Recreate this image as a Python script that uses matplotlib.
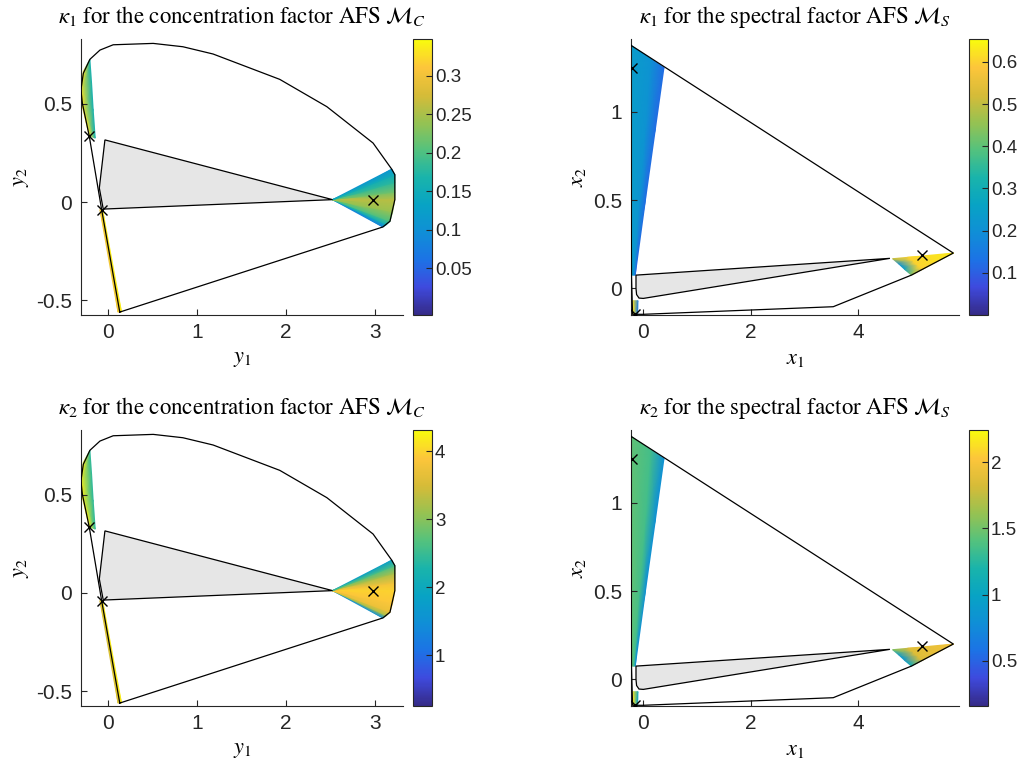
import numpy as np
import matplotlib
matplotlib.use("Agg")
import matplotlib.pyplot as plt
from matplotlib.colors import LinearSegmentedColormap, Normalize
from matplotlib.ticker import FormatStrFormatter

plt.rcParams["font.family"] = ["Liberation Sans", "DejaVu Sans"]
plt.rcParams["mathtext.fontset"] = "stix"
plt.rcParams["axes.unicode_minus"] = False

# parula-like colormap anchors
parula_pos = [0.0, 0.1, 0.2, 0.3, 0.4, 0.5, 0.6, 0.7, 0.8, 0.9, 1.0]
parula_rgb = [(0.208, 0.166, 0.529), (0.245, 0.290, 0.870), (0.110, 0.450, 0.900),
              (0.060, 0.560, 0.840), (0.030, 0.640, 0.770), (0.100, 0.705, 0.670),
              (0.330, 0.760, 0.490), (0.590, 0.760, 0.320), (0.840, 0.735, 0.220),
              (0.990, 0.775, 0.230), (0.976, 0.983, 0.054)]
parula = LinearSegmentedColormap.from_list("parula", list(zip(parula_pos, parula_rgb)))

# ---- concentration factor AFS (y1, y2) ----
conc_outline_x = [0.13, 3.09, 3.17, 3.225, 3.225, 3.19, 2.98, 2.46, 1.93, 1.18, 0.84,
                  0.506, 0.056, -0.093, -0.206, -0.28, -0.307, -0.29, -0.214, -0.074, 0.13]
conc_outline_y = [-0.56, -0.127, -0.098, 0.012, 0.139, 0.167, 0.30, 0.485, 0.624, 0.753, 0.79,
                  0.807, 0.80, 0.773, 0.726, 0.655, 0.57, 0.50, 0.337, -0.039, -0.56]
conc_gray_x = [-0.037, 2.524, -0.056, -0.10, -0.037]
conc_gray_y = [0.316, 0.012, -0.036, 0.071, 0.316]
conc_cross_x = [-0.214, -0.074, 2.98]
conc_cross_y = [0.337, -0.039, 0.012]

conc_apex = (2.524, 0.012)
conc_fan_x = [3.09, 3.13, 3.17, 3.20, 3.225, 3.225, 3.225, 3.225, 3.19]
conc_fan_y = [-0.127, -0.115, -0.098, -0.05, 0.012, 0.05, 0.10, 0.139, 0.167]
k1_conc_fan = [0.08, 0.15, 0.20, 0.24, 0.26, 0.22, 0.18, 0.15, 0.11]
k2_conc_fan = [1.5, 3.2, 3.7, 3.9, 4.0, 3.8, 3.2, 2.6, 1.8]

conc_up_left_x = [-0.28, -0.307, -0.29, -0.214]
conc_up_left_y = [0.664, 0.57, 0.485, 0.337]
conc_up_right_x = [-0.206, -0.187, -0.169, -0.146]
conc_up_right_y = [0.726, 0.604, 0.469, 0.325]
k1_conc_up = [0.33, 0.16]
k2_conc_up = [4.2, 2.4]

conc_low_left_x = [-0.093, 0.11]
conc_low_left_y = [-0.039, -0.56]
conc_low_right_x = [-0.063, 0.15]
conc_low_right_y = [-0.039, -0.56]
k1_conc_low = [0.30, 0.34]
k2_conc_low = [3.5, 4.2]

# ---- spectral factor AFS (x1, x2) ----
spec_outline_x = [-0.235, 5.77, 4.99, 3.535, 0.0, -0.2, -0.22, -0.235]
spec_outline_y = [1.378, 0.20, 0.075, -0.104, -0.147, -0.147, 0.075, 1.378]
spec_gray_x = [-0.136, 4.59, 0.0, -0.08, -0.125, -0.136, -0.136]
spec_gray_y = [0.075, 0.17, -0.057, -0.055, -0.035, 0.0, 0.075]
spec_cross_x = [-0.216, 5.19, -0.155]
spec_cross_y = [1.246, 0.189, -0.147]

spec_band_left_x = [-0.235, -0.23, -0.22, -0.21]
spec_band_left_y = [1.378, 0.9, 0.5, 0.075]
spec_band_right_x = [0.385, 0.224, 0.04, -0.15]
spec_band_right_y = [1.25, 0.9, 0.5, 0.075]
k1_spec_band = [0.24, 0.21, 0.12]
k2_spec_band = [1.45, 1.35, 0.8]

spec_apex = (5.77, 0.20)
spec_edge_x = [4.64, 4.76, 4.87, 4.99]
spec_edge_y = [0.168, 0.137, 0.106, 0.075]
k1_spec_tip = [0.64, 0.60]
k1_spec_edge = [0.50, 0.20, 0.25, 0.45]
k2_spec_tip = [2.0, 1.85]
k2_spec_edge = [1.5, 0.9, 0.85, 1.2]

spec_small_x = [[-0.19, -0.185], [-0.10, -0.105]]
spec_small_y = [[-0.07, -0.147], [-0.07, -0.147]]
k1_spec_small = [0.62, 0.15]
k2_spec_small = [2.15, 1.0]

clims = {"k1c": (-0.011, 0.347), "k1s": (0.0, 0.653), "k2c": (0.25, 4.31), "k2s": (0.158, 2.24)}

DARK = "0.15"


def shade(ax, xs, ys, cs, norm):
    ax.pcolormesh(np.array(xs, float), np.array(ys, float), np.array(cs, float),
                  shading="gouraud", cmap=parula, norm=norm, zorder=1)


def rows_between(left_x, left_y, right_x, right_y, fracs):
    lx, ly = np.array(left_x), np.array(left_y)
    rx, ry = np.array(right_x), np.array(right_y)
    xs = [lx + f * (rx - lx) for f in fracs]
    ys = [ly + f * (ry - ly) for f in fracs]
    return xs, ys


def style_axes(ax):
    for s in ["top", "right"]:
        ax.spines[s].set_visible(False)
    for s in ["left", "bottom"]:
        ax.spines[s].set_color(DARK)
        ax.spines[s].set_linewidth(0.8)
    ax.tick_params(direction="in", length=4, width=0.8, colors=DARK, labelsize=15, pad=6)
    ax.yaxis.set_major_formatter(FormatStrFormatter("%g"))
    ax.xaxis.set_major_formatter(FormatStrFormatter("%g"))


def add_cbar(fig, rect, norm, ticks):
    cax = fig.add_axes(rect)
    sm = plt.cm.ScalarMappable(norm=norm, cmap=parula)
    cb = fig.colorbar(sm, cax=cax, ticks=ticks)
    cb.outline.set_edgecolor(DARK)
    cb.outline.set_linewidth(0.8)
    cax.tick_params(direction="in", length=4, width=0.8, colors=DARK, labelsize=13.5, pad=2)
    cax.yaxis.set_major_formatter(FormatStrFormatter("%g"))


def conc_panel(ax, fan_vals, up_vals, low_vals, norm):
    n = len(conc_fan_x)
    shade(ax, [[conc_apex[0]] * n, conc_fan_x], [[conc_apex[1]] * n, conc_fan_y],
          [fan_vals, fan_vals], norm)
    xs, ys = rows_between(conc_up_left_x, conc_up_left_y, conc_up_right_x, conc_up_right_y, [0, 1])
    shade(ax, xs, ys, [[up_vals[0]] * 4, [up_vals[1]] * 4], norm)
    xs, ys = rows_between(conc_low_left_x, conc_low_left_y, conc_low_right_x, conc_low_right_y, [0, 1])
    shade(ax, xs, ys, [[low_vals[0]] * 2, [low_vals[1]] * 2], norm)
    ax.fill(conc_gray_x, conc_gray_y, facecolor="0.9", edgecolor="k", linewidth=0.9, zorder=2)
    ax.plot(conc_outline_x, conc_outline_y, color="k", linewidth=0.9, zorder=3)
    ax.plot(conc_cross_x, conc_cross_y, "kx", markersize=7, markeredgewidth=1.0, zorder=4)
    ax.set_xlim(-0.31, 3.32)
    ax.set_ylim(-0.575, 0.827)
    ax.set_xticks([0, 1, 2, 3])
    ax.set_yticks([-0.5, 0, 0.5])
    style_axes(ax)
    ax.set_xlabel(r"$y_1$", fontsize=16, labelpad=4)
    ax.set_ylabel(r"$y_2$", fontsize=16, labelpad=4)


def spec_panel(ax, band_vals, tip_vals, edge_vals, small_vals, norm):
    xs, ys = rows_between(spec_band_left_x, spec_band_left_y, spec_band_right_x, spec_band_right_y,
                          [0, 0.6, 1])
    shade(ax, xs, ys, [[v] * 4 for v in band_vals], norm)
    xs, ys = rows_between([spec_apex[0]] * 4, [spec_apex[1]] * 4, spec_edge_x, spec_edge_y,
                          [0, 0.75, 1])
    shade(ax, xs, ys, [[tip_vals[0]] * 4, [tip_vals[1]] * 4, edge_vals], norm)
    shade(ax, spec_small_x, spec_small_y, [[small_vals[0]] * 2, [small_vals[1]] * 2], norm)
    ax.fill(spec_gray_x, spec_gray_y, facecolor="0.9", edgecolor="k", linewidth=0.9, zorder=2)
    ax.plot(spec_outline_x, spec_outline_y, color="k", linewidth=0.9, zorder=3)
    ax.plot(spec_cross_x, spec_cross_y, "kx", markersize=7, markeredgewidth=1.0, zorder=4)
    ax.set_xlim(-0.235, 5.88)
    ax.set_ylim(-0.151, 1.41)
    ax.set_xticks([0, 2, 4])
    ax.set_yticks([0, 0.5, 1])
    style_axes(ax)
    ax.set_xlabel(r"$x_1$", fontsize=16, labelpad=4)
    ax.set_ylabel(r"$x_2$", fontsize=16, labelpad=4)


fig = plt.figure(figsize=(10.21, 7.62), dpi=100)
row_bottom = [0.5866, 0.0735]
height = 0.3616
title_kw = dict(fontsize=16.5, fontfamily="STIXGeneral", pad=12)

for r, k in enumerate(["1", "2"]):
    nc = Normalize(*clims["k%sc" % k])
    ns = Normalize(*clims["k%ss" % k])
    ax = fig.add_axes([0.079, row_bottom[r], 0.316, height])
    if k == "1":
        conc_panel(ax, k1_conc_fan, k1_conc_up, k1_conc_low, nc)
        add_cbar(fig, [0.4042, row_bottom[r], 0.0192, height], nc, [0.05, 0.1, 0.15, 0.2, 0.25, 0.3])
    else:
        conc_panel(ax, k2_conc_fan, k2_conc_up, k2_conc_low, nc)
        add_cbar(fig, [0.4042, row_bottom[r], 0.0192, height], nc, [1, 2, 3, 4])
    ax.set_title(r"$\kappa_%s$ for the concentration factor AFS $\mathcal{M}_C$" % k, **title_kw)

    ax = fig.add_axes([0.6177, row_bottom[r], 0.3218, height])
    if k == "1":
        spec_panel(ax, k1_spec_band, k1_spec_tip, k1_spec_edge, k1_spec_small, ns)
        add_cbar(fig, [0.949, row_bottom[r], 0.0189, height], ns, [0.1, 0.2, 0.3, 0.4, 0.5, 0.6])
    else:
        spec_panel(ax, k2_spec_band, k2_spec_tip, k2_spec_edge, k2_spec_small, ns)
        add_cbar(fig, [0.949, row_bottom[r], 0.0189, height], ns, [0.5, 1, 1.5, 2])
    ax.set_title(r"$\kappa_%s$ for the spectral factor AFS $\mathcal{M}_S$" % k, **title_kw)

fig.savefig("out.png", dpi=100)
